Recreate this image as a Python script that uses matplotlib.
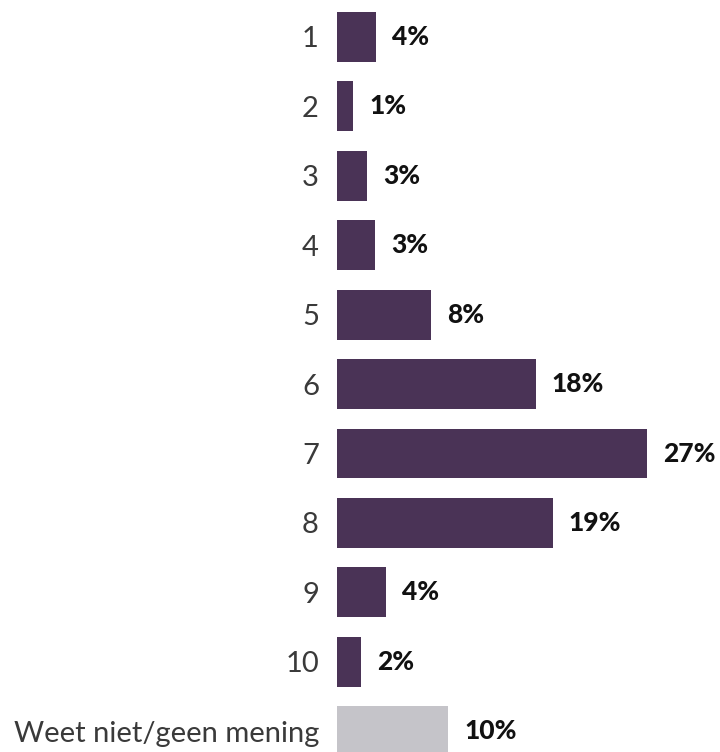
import matplotlib
matplotlib.use("Agg")
import matplotlib.pyplot as plt

categories = ["1", "2", "3", "4", "5", "6", "7", "8", "9", "10",
              "Weet niet/geen mening"]
values = [3.4, 1.4, 2.6, 3.3, 8.2, 17.3, 27.0, 18.8, 4.3, 2.1, 9.7]
labels = ["4%", "1%", "3%", "3%", "8%", "18%", "27%", "19%", "4%", "2%", "10%"]

purple = "#4a3356"
grey = "#c5c4c9"
colors = [purple] * 10 + [grey]

plt.rcParams["font.family"] = ["Lato", "DejaVu Sans"]

W, H = 720, 752
fig = plt.figure(figsize=(W / 100, H / 100), dpi=100)
# axes placed in pixel units: bars start at x=337, 11.48 px per percent
ax = fig.add_axes([337 / W, 0, 344.4 / W, 1])
ax.set_xlim(0, 30)
ax.set_ylim(10.30, -0.533)

ypos = list(range(len(categories)))
ax.barh(ypos, values, height=0.72, color=colors)

for y, v, lab in zip(ypos, values, labels):
    ax.text(v + 1.4, y, lab, va="center", ha="left", fontsize=19,
            fontweight="black", color="#111111")

ax.set_yticks(ypos)
ax.set_yticklabels(categories, fontsize=21, color="#3a3a3a")
ax.tick_params(axis="y", length=0, pad=13)
ax.set_xticks([])
for s in ax.spines.values():
    s.set_visible(False)
ax.patch.set_alpha(0)

fig.savefig("out.png", dpi=100, facecolor="white")
